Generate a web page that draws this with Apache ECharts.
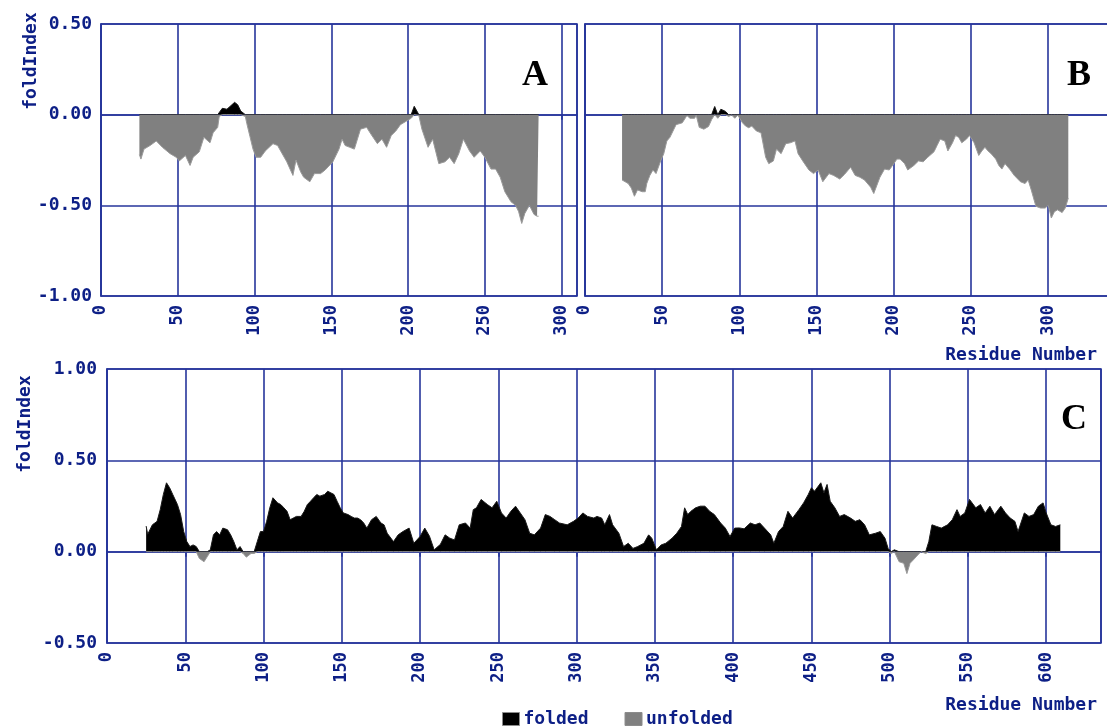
<!DOCTYPE html>
<html>
<head>
<meta charset="utf-8">
<title>FoldIndex profiles</title>
<script src="https://cdn.jsdelivr.net/npm/echarts@6/dist/echarts.min.js"></script>
<style>
  html, body { margin: 0; padding: 0; background: #ffffff; }
  #chart { width: 1107px; height: 726px; }
</style>
</head>
<body>
<div id="chart"></div>
<script>
// ---- Panel A: residue positions and foldIndex values ----
const residuesA = [25, 26, 28, 32, 36, 40, 45, 49, 51, 55, 58, 60, 64, 67, 71, 73, 76, 77, 79, 82,
  84, 87, 89, 91, 94, 95, 97, 99, 101, 104, 107, 112, 115, 118, 121, 125, 127, 130, 132, 136,
  139, 143, 146, 151, 155, 157, 159, 162, 165, 169, 173, 176, 180, 183, 186, 189, 192, 195, 199, 202,
  204, 205, 207, 209, 213, 216, 220, 224, 227, 230, 233, 236, 240, 243, 247, 250, 254, 257, 260, 263,
  267, 270, 272, 274, 276, 279, 282, 284, 285];
const foldA = [-0.22, -0.245, -0.19, -0.17, -0.145, -0.18, -0.215, -0.235, -0.255, -0.225, -0.28, -0.235, -0.205, -0.125, -0.155, -0.1, -0.07, -0.01, 0.035, 0.03,
  0.045, 0.068, 0.055, 0.02, -0.01, -0.05, -0.12, -0.19, -0.235, -0.235, -0.2, -0.16, -0.17, -0.215, -0.26, -0.335, -0.25, -0.315, -0.345, -0.37,
  -0.325, -0.325, -0.305, -0.26, -0.19, -0.135, -0.17, -0.18, -0.19, -0.08, -0.07, -0.11, -0.16, -0.135, -0.18, -0.115, -0.09, -0.055, -0.035, -0.02,
  0.046, 0.035, -0.005, -0.08, -0.18, -0.135, -0.27, -0.26, -0.235, -0.27, -0.215, -0.135, -0.2, -0.235, -0.2, -0.235, -0.3, -0.3, -0.345, -0.425,
  -0.48, -0.5, -0.535, -0.6, -0.545, -0.5, -0.55, -0.56, -0.56];

// ---- Panel B ----
const residuesB = [24, 26, 28, 30, 32, 34, 37, 39, 40, 42, 44, 46, 49, 51, 53, 55, 57, 59, 63, 66,
  68, 71, 72, 74, 77, 80, 82, 84, 85, 86, 88, 91, 93, 95, 97, 99, 102, 104, 106, 108,
  111, 114, 117, 119, 122, 124, 127, 130, 133, 136, 138, 141, 145, 148, 151, 154, 158, 161, 165, 168,
  172, 175, 178, 181, 185, 187, 189, 191, 194, 197, 200, 202, 204, 207, 209, 213, 216, 219, 222, 226,
  228, 230, 233, 235, 238, 240, 242, 244, 247, 249, 252, 255, 257, 259, 261, 263, 266, 268, 270, 272,
  275, 278, 282, 285, 287, 289, 292, 295, 298, 300, 302, 304, 306, 309, 311, 313];
const foldB = [-0.36, -0.37, -0.38, -0.405, -0.45, -0.415, -0.425, -0.425, -0.38, -0.335, -0.305, -0.325, -0.255, -0.215, -0.145, -0.125, -0.09, -0.055, -0.045, -0.005,
  -0.02, -0.02, -0.002, -0.07, -0.08, -0.065, -0.027, 0.045, 0.036, -0.02, 0.03, 0.018, -0.01, -0.002, -0.02, -0.003, -0.045, -0.063, -0.072, -0.063,
  -0.09, -0.1, -0.235, -0.27, -0.255, -0.19, -0.215, -0.16, -0.155, -0.145, -0.215, -0.255, -0.305, -0.325, -0.305, -0.37, -0.325, -0.335, -0.355, -0.33,
  -0.29, -0.335, -0.345, -0.36, -0.4, -0.435, -0.39, -0.345, -0.3, -0.305, -0.27, -0.245, -0.245, -0.27, -0.305, -0.28, -0.255, -0.26, -0.235, -0.205,
  -0.17, -0.135, -0.145, -0.2, -0.155, -0.115, -0.125, -0.155, -0.135, -0.115, -0.155, -0.225, -0.2, -0.18, -0.2, -0.215, -0.245, -0.28, -0.3, -0.27,
  -0.3, -0.335, -0.37, -0.38, -0.36, -0.415, -0.505, -0.515, -0.515, -0.5, -0.57, -0.535, -0.525, -0.54, -0.515, -0.46];

// ---- Panel C ----
const residuesC = [25, 26, 29, 32, 34, 36, 38, 40, 42, 45, 47, 49, 51, 53, 55, 57, 59, 62, 64, 66,
  68, 70, 72, 74, 77, 79, 81, 83, 85, 87, 89, 92, 94, 96, 98, 100, 102, 104, 106, 109,
  111, 113, 115, 117, 119, 121, 124, 126, 128, 130, 132, 134, 136, 139, 141, 143, 145, 147, 149, 151,
  154, 156, 158, 160, 162, 164, 166, 169, 172, 175, 177, 179, 183, 186, 189, 193, 196, 200, 203, 206,
  209, 213, 216, 219, 222, 225, 229, 232, 234, 236, 239, 243, 246, 249, 252, 255, 258, 261, 264, 267,
  270, 273, 277, 280, 283, 286, 289, 294, 298, 301, 304, 307, 311, 313, 316, 318, 321, 323, 327, 330,
  333, 336, 339, 343, 346, 348, 351, 354, 357, 361, 364, 367, 369, 371, 373, 376, 379, 382, 385, 388,
  392, 395, 398, 401, 404, 407, 411, 414, 417, 420, 424, 426, 429, 432, 435, 438, 442, 445, 448, 450,
  452, 456, 458, 460, 462, 465, 468, 471, 475, 478, 481, 484, 487, 491, 494, 497, 499, 501, 503, 506,
  509, 511, 513, 515, 518, 520, 523, 525, 527, 530, 533, 537, 540, 543, 545, 548, 551, 555, 558, 561,
  564, 567, 571, 574, 577, 580, 582, 586, 589, 592, 595, 598, 600, 603, 606, 609];
const foldC = [0.14, 0.095, 0.147, 0.166, 0.23, 0.313, 0.377, 0.35, 0.313, 0.258, 0.203, 0.11, 0.055, 0.028, 0.037, 0.028, -0.037, -0.055, -0.028, 0.01,
  0.092, 0.11, 0.092, 0.129, 0.12, 0.092, 0.055, 0.01, 0.028, -0.01, -0.03, -0.01, -0.01, 0.055, 0.11, 0.11, 0.166, 0.24, 0.295, 0.267,
  0.258, 0.24, 0.221, 0.175, 0.184, 0.193, 0.193, 0.221, 0.258, 0.276, 0.295, 0.313, 0.304, 0.313, 0.331, 0.322, 0.313, 0.276, 0.24, 0.212,
  0.203, 0.193, 0.184, 0.184, 0.175, 0.157, 0.129, 0.175, 0.193, 0.157, 0.147, 0.101, 0.055, 0.092, 0.11, 0.129, 0.046, 0.083, 0.129, 0.085,
  0.01, 0.04, 0.092, 0.074, 0.064, 0.147, 0.157, 0.129, 0.23, 0.24, 0.286, 0.258, 0.24, 0.276, 0.212, 0.184, 0.221, 0.249, 0.212, 0.175,
  0.101, 0.092, 0.129, 0.203, 0.193, 0.175, 0.157, 0.147, 0.166, 0.184, 0.212, 0.193, 0.184, 0.193, 0.184, 0.147, 0.203, 0.147, 0.101, 0.028,
  0.046, 0.018, 0.028, 0.046, 0.092, 0.074, 0.01, 0.037, 0.046, 0.074, 0.101, 0.138, 0.24, 0.203, 0.221, 0.24, 0.249, 0.249, 0.221, 0.203,
  0.157, 0.129, 0.083, 0.129, 0.13, 0.125, 0.157, 0.147, 0.157, 0.129, 0.092, 0.046, 0.11, 0.138, 0.221, 0.184, 0.23, 0.267, 0.313, 0.35,
  0.331, 0.377, 0.322, 0.368, 0.276, 0.24, 0.193, 0.203, 0.184, 0.166, 0.175, 0.147, 0.092, 0.101, 0.11, 0.074, 0.018, -0.01, 0.01, -0.055,
  -0.064, -0.12, -0.064, -0.046, -0.018, 0.0, -0.01, 0.055, 0.147, 0.138, 0.129, 0.147, 0.175, 0.23, 0.193, 0.212, 0.286, 0.24, 0.258, 0.212,
  0.249, 0.203, 0.249, 0.212, 0.184, 0.166, 0.11, 0.212, 0.193, 0.203, 0.249, 0.267, 0.212, 0.147, 0.138, 0.147];

// Axis ranges and tick labels
const xMaxA = 310, xMaxB = 340, xMaxC = 635;
const xStep = 50;
const yRangeTop = { min: -1.0, max: 0.5 };
const yRangeBottom = { min: -0.5, max: 1.0 };
const yStep = 0.5;
const legendNames = ['folded', 'unfolded'];
const axisTitleX = 'Residue Number';
const axisTitleY = 'foldIndex';
const panelLetters = ['A', 'B', 'C'];

// ---- styling ----
const NAVY = '#26359b';
const INK = '#0d1f86';
const MONO = '"DejaVu Sans Mono", "Liberation Mono", monospace';
const FOLDED = '#000000';
const UNFOLDED = '#808080';

const chart = echarts.init(document.getElementById('chart'), null, { renderer: 'canvas' });

// Positive part of a profile is drawn as "folded", negative part as "unfolded"
function split(res, vals, positive) {
  return res.map((r, i) => [r, positive ? Math.max(vals[i], 0) : Math.min(vals[i], 0)]);
}

const grids = [
  { left: 101, top: 24, width: 476, height: 272 },
  { left: 585, top: 24, width: 525, height: 272 },
  { left: 107, top: 369, width: 994, height: 274 }
].map(g => Object.assign(g, { show: true, borderColor: NAVY, borderWidth: 1.6, outerBoundsMode: 'none', containLabel: false }));

function xAxisFor(idx, max) {
  return {
    gridIndex: idx, type: 'value', min: 0, max: max, interval: xStep,
    axisLine: { show: true, lineStyle: { color: NAVY, width: 1.6 } },
    axisTick: { show: true, length: 5, lineStyle: { color: NAVY, width: 1.6 } },
    splitLine: { show: true, lineStyle: { color: NAVY, width: 1.6 } },
    axisLabel: {
      show: true, rotate: 90, margin: 9, showMaxLabel: false, showMinLabel: true,
      color: INK, fontFamily: MONO, fontWeight: 'bold', fontSize: 17,
      formatter: v => String(v)
    }
  };
}

function yAxisFor(idx, range, showLabels) {
  return {
    gridIndex: idx, type: 'value', min: range.min, max: range.max, interval: yStep,
    axisLine: { show: true, lineStyle: { color: NAVY, width: 1.6 } },
    axisTick: { show: false },
    splitLine: { show: true, lineStyle: { color: NAVY, width: 1.6 } },
    axisLabel: {
      show: showLabels, margin: idx === 2 ? 10 : 9,
      color: INK, fontFamily: MONO, fontWeight: 'bold', fontSize: 18,
      formatter: v => (Math.abs(v) < 1e-9 ? 0 : v).toFixed(2)
    }
  };
}

function profileSeries(idx, res, vals) {
  const base = {
    type: 'line', xAxisIndex: idx, yAxisIndex: idx,
    symbol: 'none', silent: true, animation: false, clip: true
  };
  return [
    Object.assign({}, base, {
      name: legendNames[0], data: split(res, vals, true), z: 3,
      itemStyle: { color: FOLDED },
      lineStyle: { color: '#1a1a1a', width: 1 },
      areaStyle: { color: FOLDED, opacity: 1 }
    }),
    Object.assign({}, base, {
      name: legendNames[1], data: split(res, vals, false), z: 4,
      itemStyle: { color: UNFOLDED },
      lineStyle: { color: '#9a9a9a', width: 1 },
      areaStyle: { color: UNFOLDED, opacity: 1 }
    })
  ];
}

const textFont = 'bold 18px ' + MONO;
const letterFont = 'bold 36px "Liberation Serif", "DejaVu Serif", serif';

const option = {
  animation: false,
  backgroundColor: '#ffffff',
  grid: grids,
  xAxis: [xAxisFor(0, xMaxA), xAxisFor(1, xMaxB), xAxisFor(2, xMaxC)],
  yAxis: [yAxisFor(0, yRangeTop, true), yAxisFor(1, yRangeTop, false), yAxisFor(2, yRangeBottom, true)],
  legend: {
    data: legendNames, left: 502, top: 710, padding: 0,
    icon: 'rect', itemWidth: 17, itemHeight: 13, itemGap: 36,
    itemStyle: { borderColor: '#8c8c8c', borderWidth: 1 },
    textStyle: { color: INK, fontFamily: MONO, fontWeight: 'bold', fontSize: 18, padding: [0, 0, 0, -1] },
    selectedMode: false
  },
  graphic: [
    { type: 'text', x: 31, y: 61, rotation: Math.PI / 2,
      style: { text: axisTitleY, font: textFont, fill: INK, align: 'center', verticalAlign: 'middle' } },
    { type: 'text', x: 25, y: 424, rotation: Math.PI / 2,
      style: { text: axisTitleY, font: textFont, fill: INK, align: 'center', verticalAlign: 'middle' } },
    { type: 'text', x: 1097, y: 355,
      style: { text: axisTitleX, font: textFont, fill: INK, align: 'right', verticalAlign: 'middle' } },
    { type: 'text', x: 1097, y: 705,
      style: { text: axisTitleX, font: textFont, fill: INK, align: 'right', verticalAlign: 'middle' } },
    { type: 'text', x: 535, y: 76,
      style: { text: panelLetters[0], font: letterFont, fill: '#000', align: 'center', verticalAlign: 'middle' } },
    { type: 'text', x: 1079, y: 76,
      style: { text: panelLetters[1], font: letterFont, fill: '#000', align: 'center', verticalAlign: 'middle' } },
    { type: 'text', x: 1074, y: 420,
      style: { text: panelLetters[2], font: letterFont, fill: '#000', align: 'center', verticalAlign: 'middle' } }
  ],
  series: [].concat(
    profileSeries(0, residuesA, foldA),
    profileSeries(1, residuesB, foldB),
    profileSeries(2, residuesC, foldC)
  )
};

chart.setOption(option);
</script>
</body>
</html>
